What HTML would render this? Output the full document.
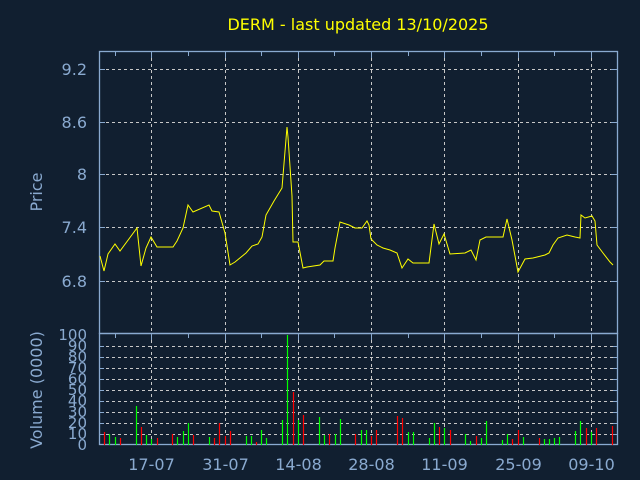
<!DOCTYPE html>
<html><head><meta charset="utf-8"><style>
html,body{margin:0;padding:0;background:#111f30;}
svg{display:block;}
text{font-family:"DejaVu Sans","Liberation Sans",sans-serif;}
</style></head><body>
<svg width="640" height="480" viewBox="0 0 640 480" xmlns="http://www.w3.org/2000/svg">
<rect width="640" height="480" fill="#111f30"/>
<text x="358" y="30" fill="#ffff00" font-size="16" text-anchor="middle">DERM - last updated 13/10/2025</text>
<g stroke="#c8c8c8" stroke-width="1" stroke-dasharray="3,3" fill="none">
<line x1="100" y1="69.5" x2="617" y2="69.5"/>
<line x1="100" y1="122.5" x2="617" y2="122.5"/>
<line x1="100" y1="174.5" x2="617" y2="174.5"/>
<line x1="100" y1="227.5" x2="617" y2="227.5"/>
<line x1="100" y1="281.5" x2="617" y2="281.5"/>
<line x1="151.5" y1="52" x2="151.5" y2="445"/>
<line x1="225.5" y1="52" x2="225.5" y2="445"/>
<line x1="298.5" y1="52" x2="298.5" y2="445"/>
<line x1="371.5" y1="52" x2="371.5" y2="445"/>
<line x1="444.5" y1="52" x2="444.5" y2="445"/>
<line x1="518.5" y1="52" x2="518.5" y2="445"/>
<line x1="591.5" y1="52" x2="591.5" y2="445"/>
<line x1="100" y1="434.5" x2="617" y2="434.5"/>
<line x1="100" y1="423.5" x2="617" y2="423.5"/>
<line x1="100" y1="412.5" x2="617" y2="412.5"/>
<line x1="100" y1="401.5" x2="617" y2="401.5"/>
<line x1="100" y1="390.5" x2="617" y2="390.5"/>
<line x1="100" y1="379.5" x2="617" y2="379.5"/>
<line x1="100" y1="368.5" x2="617" y2="368.5"/>
<line x1="100" y1="357.5" x2="617" y2="357.5"/>
<line x1="100" y1="346.5" x2="617" y2="346.5"/>
</g>
<g stroke="#8aaad0" stroke-width="1.3" fill="none">
<rect x="99.5" y="51.5" width="518" height="282"/>
<rect x="99.5" y="333.5" width="518" height="111"/>
</g>
<g stroke="#8aaad0" stroke-width="1">
<path d="M115.5,52v4M188.5,52v4M261.5,52v4M334.5,52v4M408.5,52v4M481.5,52v4M554.5,52v4M151.5,52v6M225.5,52v6M298.5,52v6M371.5,52v6M444.5,52v6M518.5,52v6M591.5,52v6"/>
<path d="M115.5,334v4M188.5,334v4M261.5,334v4M334.5,334v4M408.5,334v4M481.5,334v4M554.5,334v4M151.5,334v6M225.5,334v6M298.5,334v6M371.5,334v6M444.5,334v6M518.5,334v6M591.5,334v6"/>
<path d="M100,69.5h5M100,122.5h5M100,174.5h5M100,227.5h5M100,281.5h5M617,69.5h-6M617,122.5h-6M617,174.5h-6M617,227.5h-6M617,281.5h-6"/>
<path d="M100,434.5h4M100,423.5h4M100,412.5h4M100,401.5h4M100,390.5h4M100,379.5h4M100,368.5h4M100,357.5h4M100,346.5h4M617,434.5h-4M617,423.5h-4M617,412.5h-4M617,401.5h-4M617,390.5h-4M617,379.5h-4M617,368.5h-4M617,357.5h-4M617,346.5h-4"/>
</g>
<g fill="#8aaad0" font-size="16" text-anchor="end">
<text x="87" y="75">9.2</text>
<text x="87" y="128">8.6</text>
<text x="87" y="180">8</text>
<text x="87" y="233">7.4</text>
<text x="87" y="287">6.8</text>
</g>
<g fill="#8aaad0" font-size="15" text-anchor="end">
<text x="87" y="450">0</text>
<text x="87" y="439">10</text>
<text x="87" y="428">20</text>
<text x="87" y="417">30</text>
<text x="87" y="406">40</text>
<text x="87" y="395">50</text>
<text x="87" y="384">60</text>
<text x="87" y="373">70</text>
<text x="87" y="362">80</text>
<text x="87" y="351">90</text>
<text x="87" y="340">100</text>
</g>
<g fill="#8aaad0" font-size="16" text-anchor="middle">
<text x="151.5" y="470">17-07</text>
<text x="225.5" y="470">31-07</text>
<text x="298.5" y="470">14-08</text>
<text x="371.5" y="470">28-08</text>
<text x="444.5" y="470">11-09</text>
<text x="518.5" y="470">25-09</text>
<text x="591.5" y="470">09-10</text>
</g>
<text transform="translate(42,192) rotate(-90)" fill="#8aaad0" font-size="16" text-anchor="middle">Price</text>
<text transform="translate(42,390) rotate(-90)" fill="#8aaad0" font-size="16" text-anchor="middle">Volume (0000)</text>
<polyline fill="none" stroke="#ffff00" stroke-width="1" points="100,256 104,271 108,254 115,244 120,251 137,228 141,266 146,248 151,237 157,247 173,247 177,241 183,228 188,205 193,212 209,205 212,211 219,212 221,219 225,233 230,265 235,262 246,253 252,246 258,244 262,237 266,215 274,201 282,188 287,127 288,137 292,196 293,242 298,242 303,268 307,267 320,265 324,261 333,261 335,248 340,222 349,225 355,228 362,228 367,221 369,225 371,239 377,245 383,248 390,250 397,253 402,268 408,259 413,263 429,263 434,224 439,244 444,234 450,254 465,253 471,250 476,260 480,240 486,237 503,237 507,219 512,240 518,272 525,259 533,258 545,255 549,253 553,245 558,238 567,235 575,237 580,238 581,215 585,218 592,216 595,221 597,245 603,253 610,262 613,265"/>
<g stroke-width="1.2" transform="translate(0.5,0)">
<g stroke="#ff0000">
<path d="M104,445V432M120,445V438M141,445V427M157,445V438M172,445V434M193,445V435M214,445V438M219,445V423M225,445V436M230,445V431M256,445V442M293,445V392M303,445V415M329,445V434M355,445V434M371,445V436M376,445V430M397,445V416M402,445V418M439,445V427M450,445V430M476,445V436M512,445V439M518,445V430M539,445V438M586,445V428M596,445V428M612,445V426"/>
</g>
<g stroke="#00ff00">
<path d="M109,445V434M115,445V437M136,445V406M146,445V435M151,445V439M177,445V437M183,445V431M188,445V423M209,445V437M246,445V436M251,445V436M261,445V430M266,445V438M282,445V420M287,445V335M298,445V420M319,445V417M324,445V435M335,445V434M340,445V419M361,445V430M366,445V430M408,445V432M413,445V432M429,445V438M434,445V423M444,445V428M465,445V434M470,445V441M481,445V438M486,445V421M502,445V440M507,445V434M523,445V437M544,445V439M549,445V439M554,445V438M559,445V437M575,445V431M580,445V421M591,445V432"/>
</g>
</g>
</svg>
</body></html>
